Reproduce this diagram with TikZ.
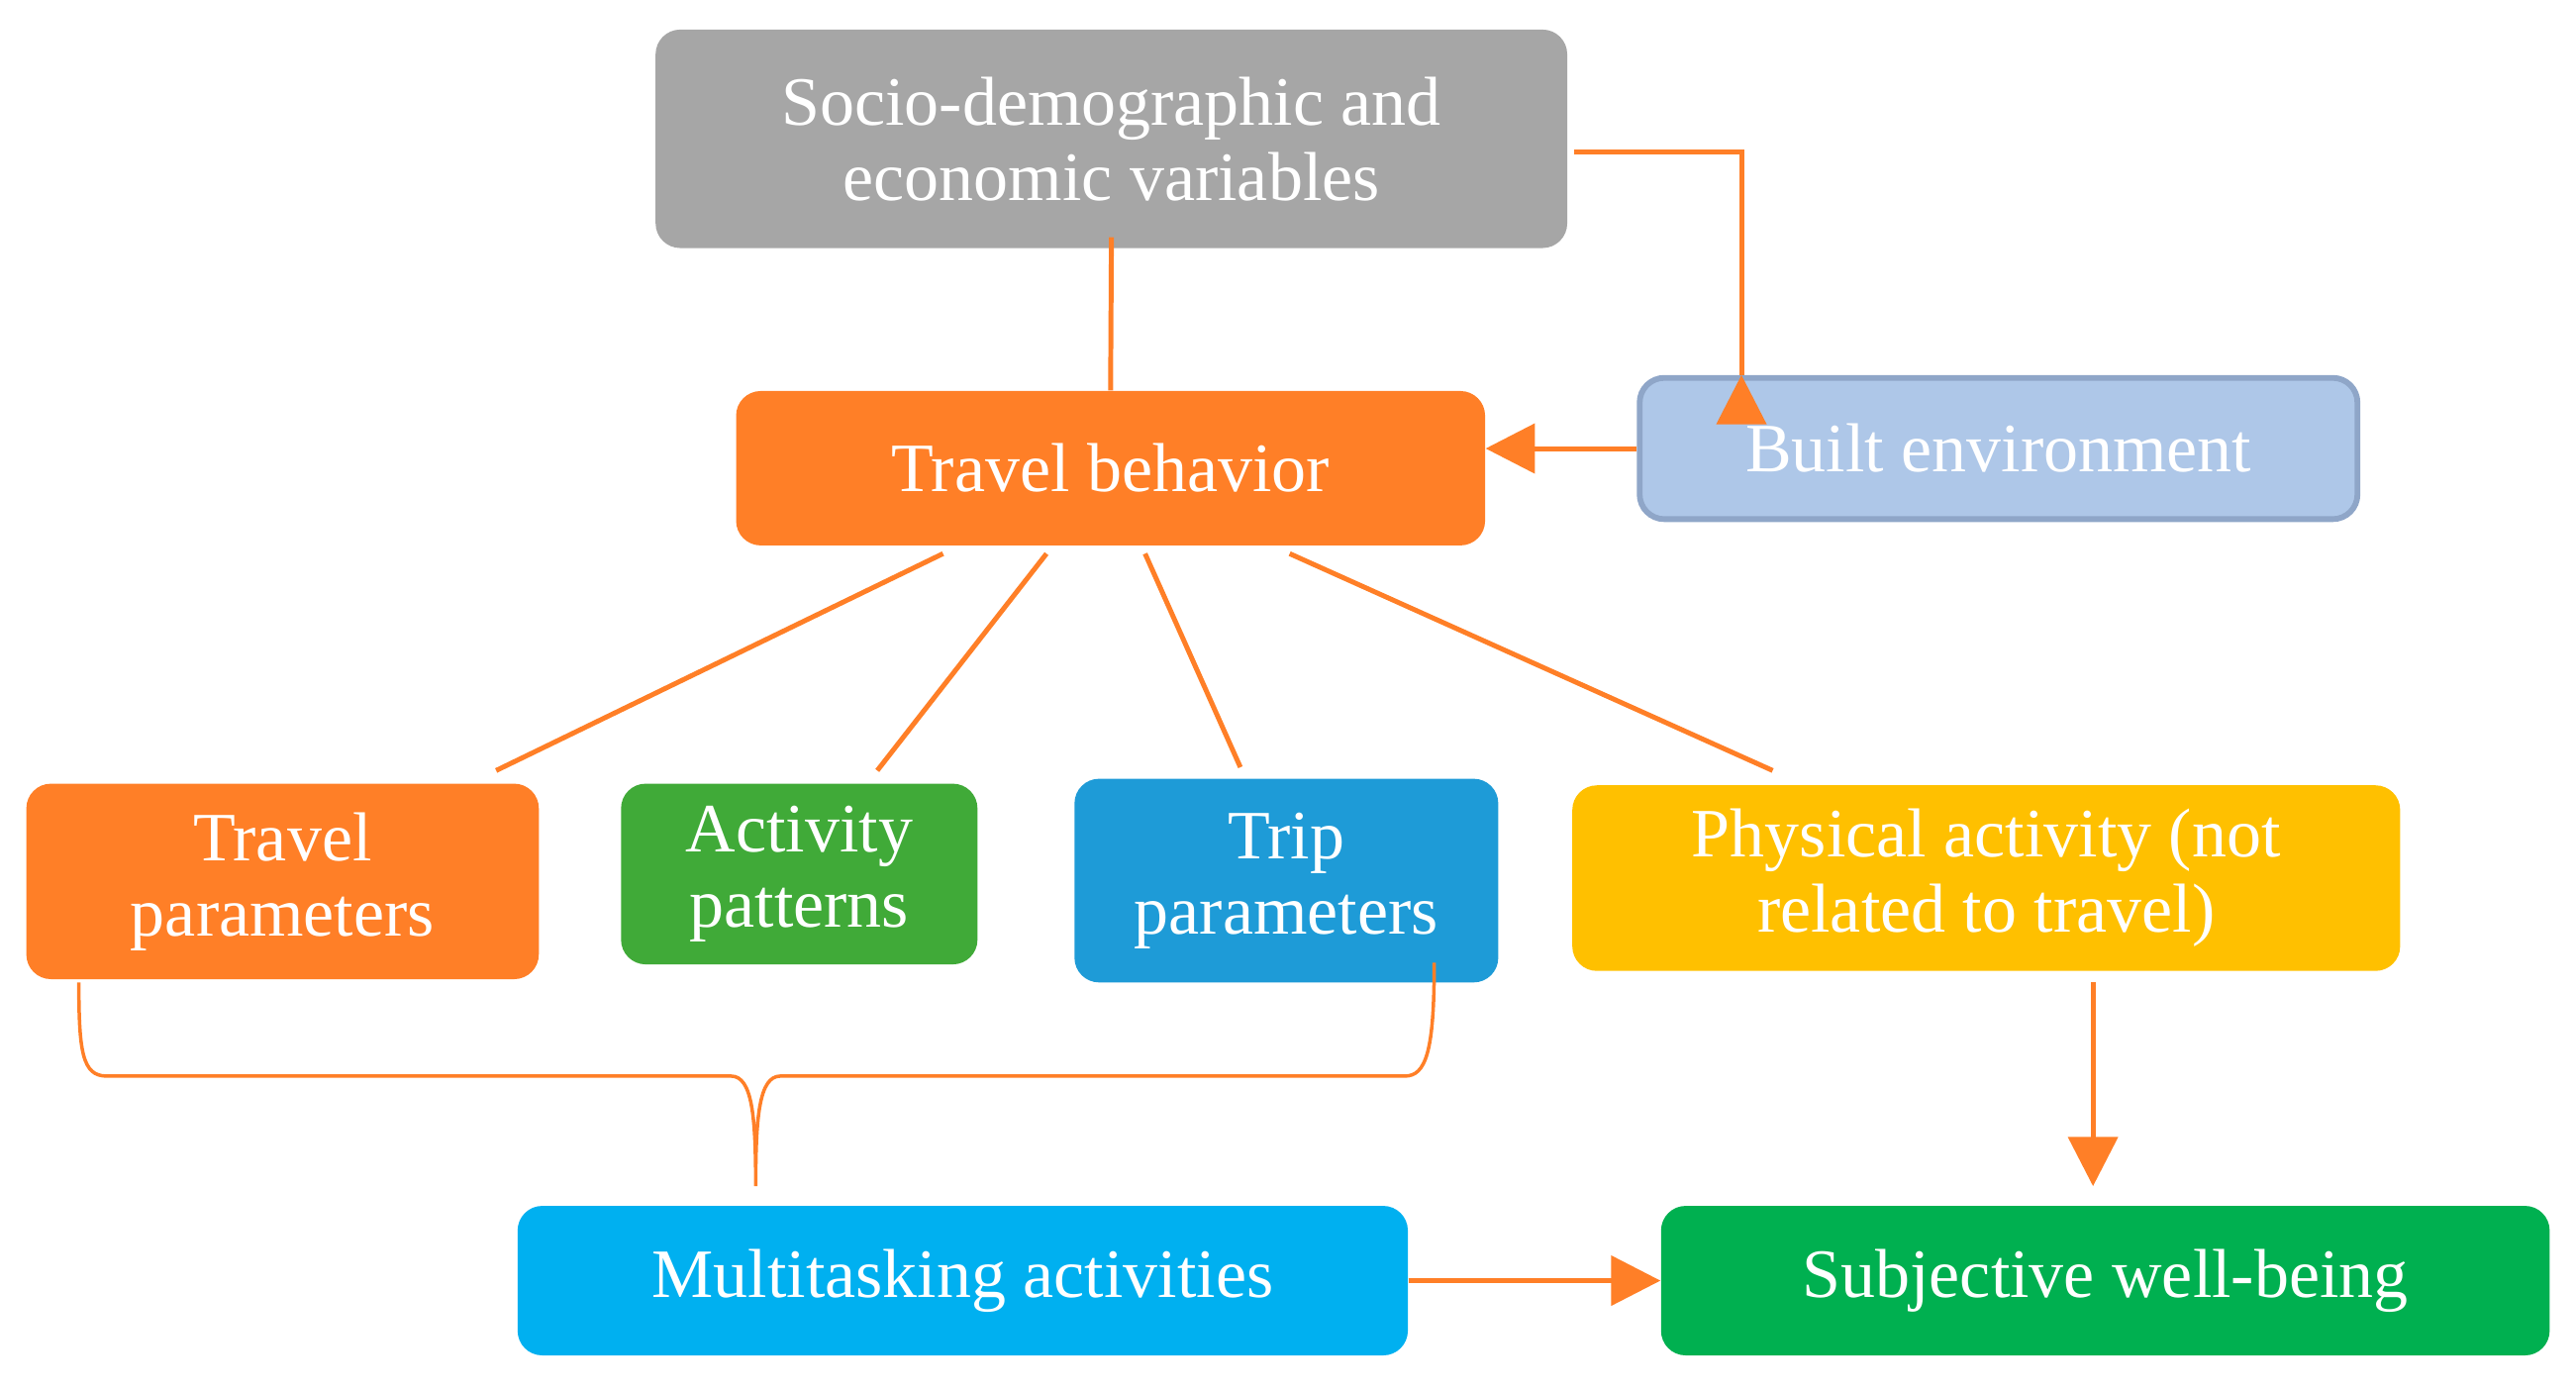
\documentclass[tikz,border=0pt]{standalone}
\usepackage{fontspec}
\setmainfont{Liberation Serif}
\usetikzlibrary{arrows.meta,calc}
\definecolor{cgray}{RGB}{166,166,166}
\definecolor{corange}{RGB}{255,127,39}
\definecolor{cbuilt}{RGB}{174,199,232}
\definecolor{cbuiltb}{RGB}{143,166,200}
\definecolor{cgreen}{RGB}{64,170,56}
\definecolor{ctrip}{RGB}{30,155,215}
\definecolor{cyellow}{RGB}{255,192,0}
\definecolor{cmulti}{RGB}{0,176,240}
\definecolor{csub}{RGB}{0,176,80}
\tikzset{
 box/.style={rounded corners=0.3cm,text=white,align=center,font=\fontsize{24}{26}\selectfont,inner sep=0pt},
 conn/.style={draw=corange,line width=1.7pt},
 arr/.style={conn,-{Triangle[length=0.6cm,width=0.6cm]}}
}
\begin{document}
\begin{tikzpicture}[x=0.02cm,y=-0.02cm]
\useasboundingbox (0,0) rectangle (1568,845);
\node[box,fill=cgray,minimum width=11.1cm,minimum height=2.66cm] (soc) at (676.5,84.5) {Socio-demographic and\\economic variables};
\node[box,fill=corange,minimum width=9.12cm,minimum height=1.88cm] (tb) at (676,285) {Travel behavior};
\node[box,fill=cbuilt,draw=cbuiltb,line width=2pt,minimum width=8.74cm,minimum height=1.72cm] (be) at (1216.5,273) {Built environment};
\node[box,fill=corange,minimum width=6.24cm,minimum height=2.38cm] (tp) at (172,536.5) {Travel\\parameters};
\node[box,fill=cgreen,minimum width=4.34cm,minimum height=2.2cm] (ap) at (486.5,532) {Activity\\patterns};
\node[box,fill=ctrip,minimum width=5.16cm,minimum height=2.48cm] (trp) at (783,536) {Trip\\parameters};
\node[box,fill=cyellow,minimum width=10.08cm,minimum height=2.26cm] (pa) at (1209,534.5) {Physical activity (not\\related to travel)};
\node[box,fill=cmulti,minimum width=10.84cm,minimum height=1.82cm] (mt) at (586,779.5) {Multitasking activities};
\node[box,fill=csub,minimum width=10.82cm,minimum height=1.82cm] (sw) at (1281.5,779.5) {Subjective well-being};
\draw[conn] ($(soc.south)+(0,-7)$) -- (tb.north);
\draw[arr] ($(soc.east)+(4,8)$) -| (be.north west -| 1060,0) ++(0,0);
\draw[arr] (be.west) -- (tb.east |- be.west);
\draw[conn] (574,337) -- (302,469);
\draw[conn] (637,337) -- (534,469);
\draw[conn] (697,337) -- (755,467);
\draw[conn] (785,337) -- (1079,469);
\draw[arr] (1274,598) -- (1274,722);
\draw[arr] (mt.east) -- (sw.west);
\coordinate (bl) at (48,598);
\coordinate (br) at (873,586);
\coordinate (bt) at (460,722);
\draw[draw=corange,line width=1.2pt] (bl) .. controls (48,640) and (50,655) .. (65,655) -- (445,655) .. controls (458,655) and (460,680) .. (bt)
 .. controls (460,680) and (462,655) .. (475,655) -- (855,655) .. controls (868,655) and (873,640) .. (br);
\end{tikzpicture}
\end{document}
